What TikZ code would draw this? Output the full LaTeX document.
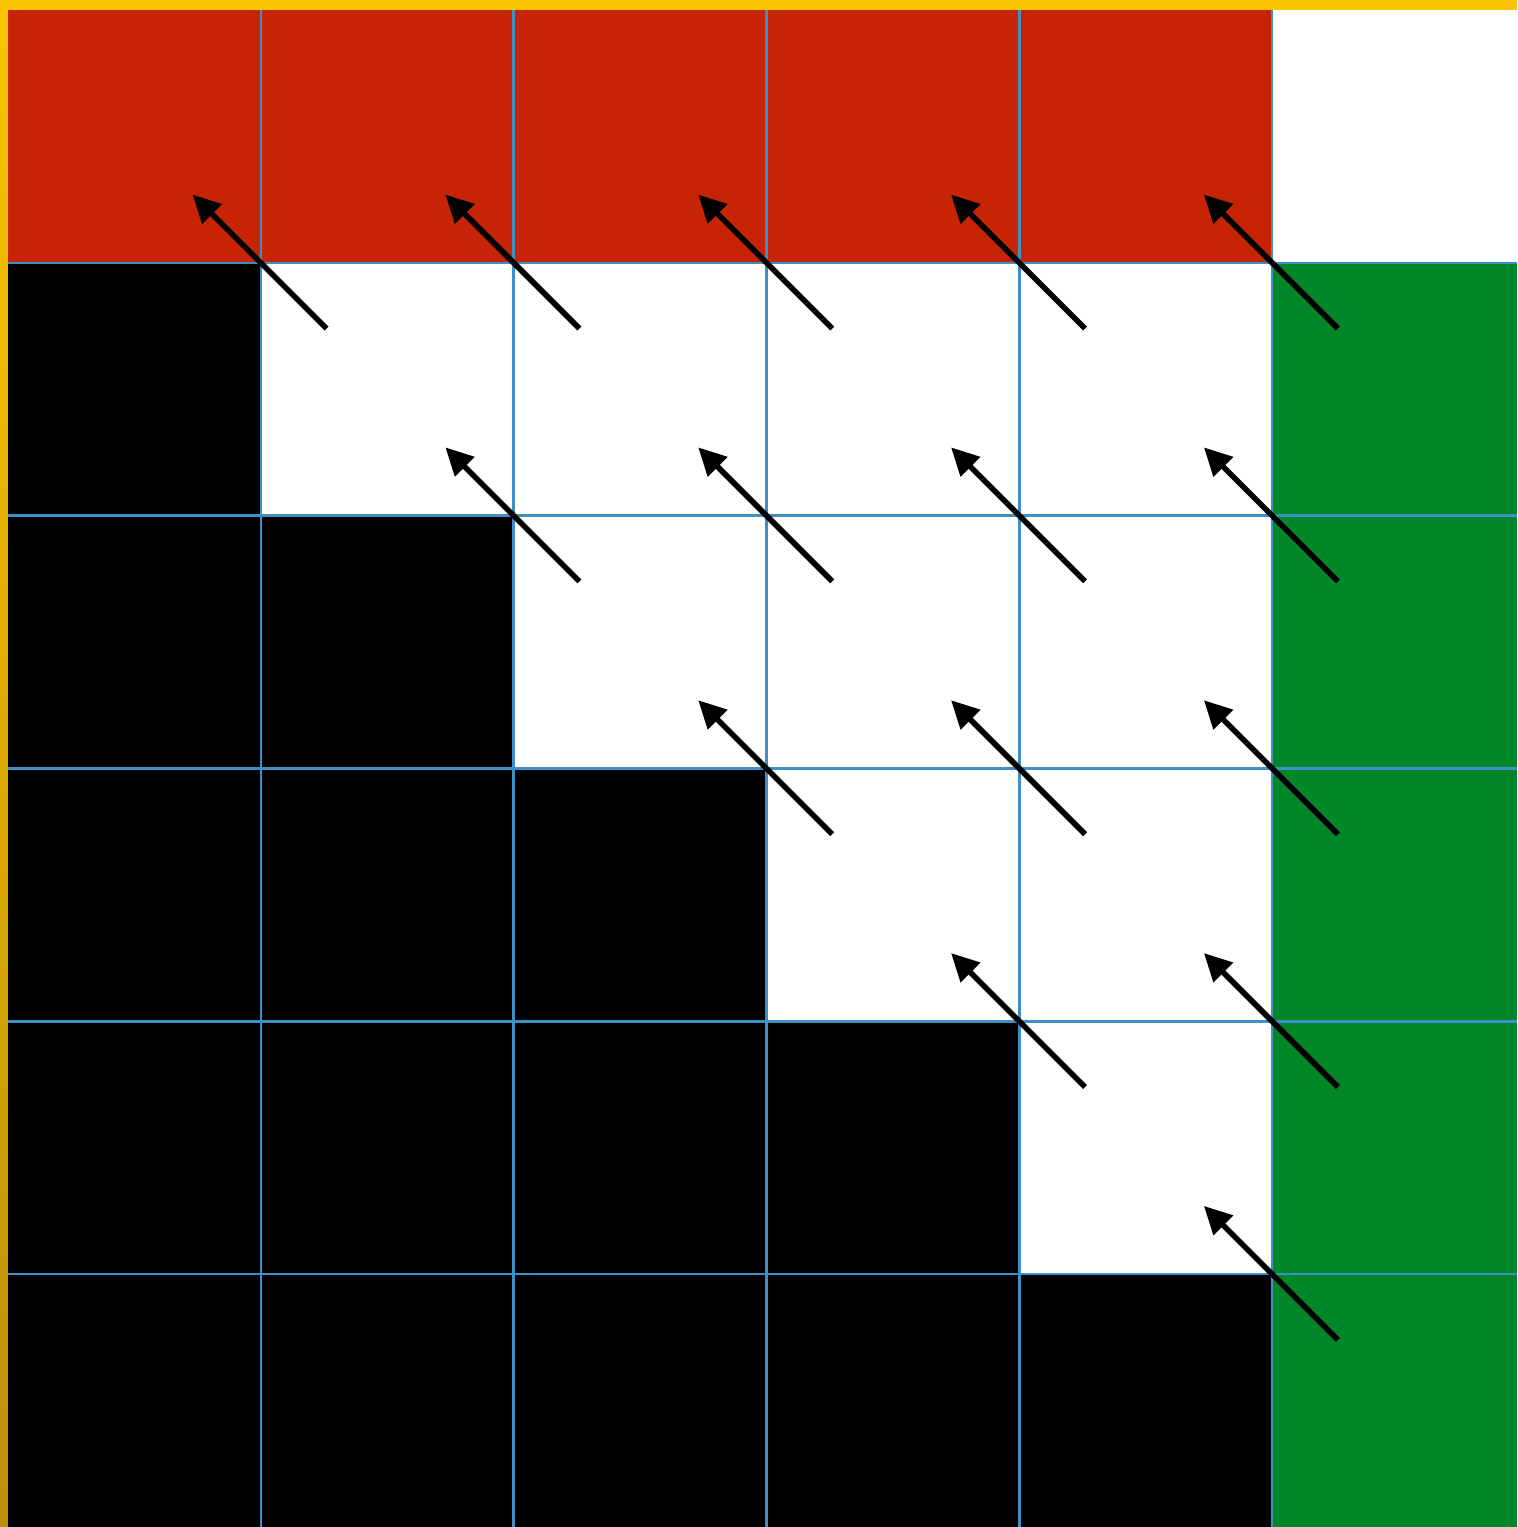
\documentclass[tikz,border=0pt]{standalone}
\usepackage{tikz}
\usetikzlibrary{arrows.meta}
\definecolor{framegold}{RGB}{249,196,0}
\definecolor{framedark}{RGB}{190,143,10}
\definecolor{basered}{RGB}{198,36,4}
\definecolor{basegreen}{RGB}{2,134,42}
\definecolor{gridblue}{RGB}{62,143,196}

\begin{document}
\begin{tikzpicture}[x=2cm,y=2cm]
\useasboundingbox (-0.0316,0) rectangle (5.969,6.0396);
% frame
\fill[framegold] (-0.0316,6) rectangle (5.969,6.0396);
\shade[top color=framegold,bottom color=framedark] (-0.0316,0) rectangle (0,6);
% cells
\fill[basered] (0,5) rectangle (5,6);
\fill[basegreen] (5,0) rectangle (5.969,5);
\foreach \r in {1,...,5}{\fill[black] (0,5-\r) rectangle (\r,6-\r);}
% grid
\foreach \x in {1,...,5}{\draw[gridblue,line width=.55pt] (\x,0)--(\x,6);}
\foreach \y in {1,...,5}{\draw[gridblue,line width=.55pt] (0,\y)--(5.969,\y);}
% arrows to the upper-left neighbour
\foreach \r in {1,...,5}{\foreach \c in {\r,...,5}{
  \coordinate (k\r\c) at (\c,6-\r);
  \draw[line width=1.25pt,-{Triangle[length=6.2pt,width=6pt]}] ([shift={(0.26,-0.26)}]k\r\c)--([shift={(-0.27,0.27)}]k\r\c);
}}
\end{tikzpicture}
\end{document}
